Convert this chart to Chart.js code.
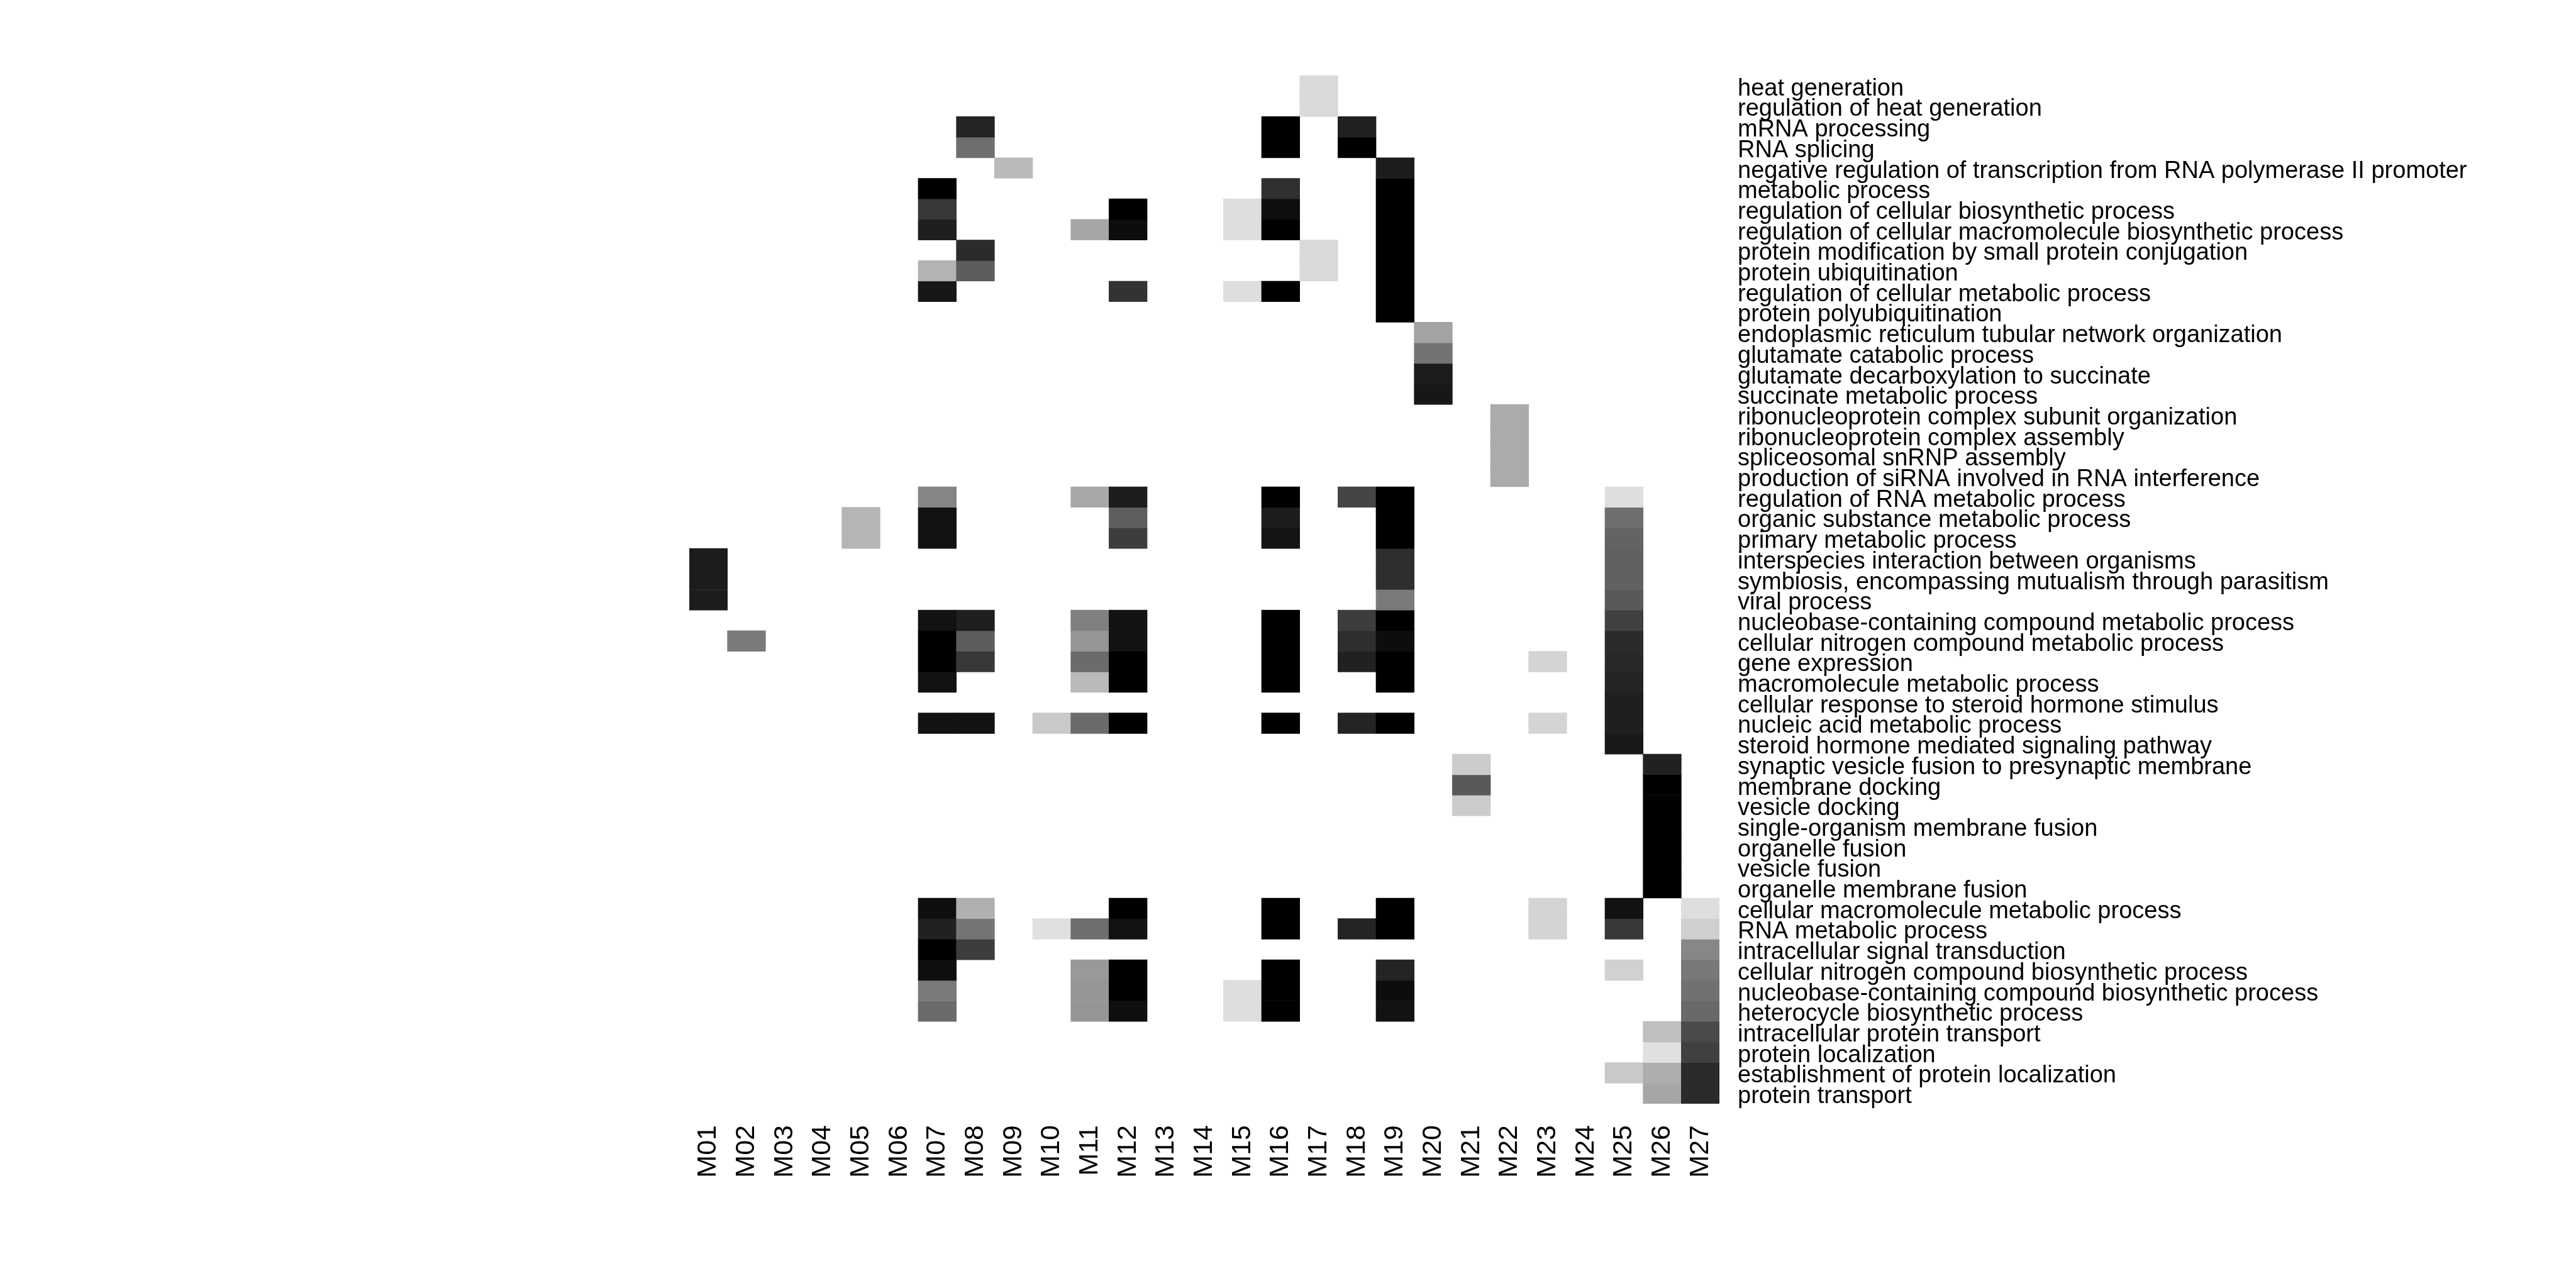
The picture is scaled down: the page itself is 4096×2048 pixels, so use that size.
<!DOCTYPE html>
<html>
<head>
<meta charset="utf-8">
<script src="https://cdn.jsdelivr.net/npm/chart.js@4.4.1/dist/chart.umd.min.js"></script>
<style>
html,body{margin:0;padding:0;background:#fff;}
#wrap{width:4096px;height:2048px;position:relative;}
</style>
</head>
<body>
<div id="wrap"><canvas id="c" width="4096" height="2048"></canvas></div>
<script>
const modules = ['M01','M02','M03','M04','M05','M06','M07','M08','M09','M10','M11','M12','M13','M14','M15','M16','M17','M18','M19','M20','M21','M22','M23','M24','M25','M26','M27'];

const terms = [
  'heat generation',
  'regulation of heat generation',
  'mRNA processing',
  'RNA splicing',
  'negative regulation of transcription from RNA polymerase II promoter',
  'metabolic process',
  'regulation of cellular biosynthetic process',
  'regulation of cellular macromolecule biosynthetic process',
  'protein modification by small protein conjugation',
  'protein ubiquitination',
  'regulation of cellular metabolic process',
  'protein polyubiquitination',
  'endoplasmic reticulum tubular network organization',
  'glutamate catabolic process',
  'glutamate decarboxylation to succinate',
  'succinate metabolic process',
  'ribonucleoprotein complex subunit organization',
  'ribonucleoprotein complex assembly',
  'spliceosomal snRNP assembly',
  'production of siRNA involved in RNA interference',
  'regulation of RNA metabolic process',
  'organic substance metabolic process',
  'primary metabolic process',
  'interspecies interaction between organisms',
  'symbiosis, encompassing mutualism through parasitism',
  'viral process',
  'nucleobase-containing compound metabolic process',
  'cellular nitrogen compound metabolic process',
  'gene expression',
  'macromolecule metabolic process',
  'cellular response to steroid hormone stimulus',
  'nucleic acid metabolic process',
  'steroid hormone mediated signaling pathway',
  'synaptic vesicle fusion to presynaptic membrane',
  'membrane docking',
  'vesicle docking',
  'single-organism membrane fusion',
  'organelle fusion',
  'vesicle fusion',
  'organelle membrane fusion',
  'cellular macromolecule metabolic process',
  'RNA metabolic process',
  'intracellular signal transduction',
  'cellular nitrogen compound biosynthetic process',
  'nucleobase-containing compound biosynthetic process',
  'heterocycle biosynthetic process',
  'intracellular protein transport',
  'protein localization',
  'establishment of protein localization',
  'protein transport'
];

// enrichment score per term (rows) and module (columns M01..M27); _ = not enriched
const _ = null;
const scores = [
  [_,_,_,_,_,_,_,_,_,    _,_,_,_,_,_,_,.15,_,      _,_,_,_,_,_,_,_,_],
  [_,_,_,_,_,_,_,_,_,    _,_,_,_,_,_,_,.15,_,      _,_,_,_,_,_,_,_,_],
  [_,_,_,_,_,_,_,.86,_,  _,_,_,_,_,_,1,_,.87,      _,_,_,_,_,_,_,_,_],
  [_,_,_,_,_,_,_,.57,_,  _,_,_,_,_,_,1,_,1,        _,_,_,_,_,_,_,_,_],
  [_,_,_,_,_,_,_,_,.27,  _,_,_,_,_,_,_,_,_,        .89,_,_,_,_,_,_,_,_],
  [_,_,_,_,_,_,1,_,_,    _,_,_,_,_,_,.81,_,_,      1,_,_,_,_,_,_,_,_],
  [_,_,_,_,_,_,.78,_,_,  _,_,1,_,_,.13,.94,_,_,    1,_,_,_,_,_,_,_,_],
  [_,_,_,_,_,_,.88,_,_,  _,.35,.95,_,_,.13,1,_,_,  1,_,_,_,_,_,_,_,_],
  [_,_,_,_,_,_,_,.83,_,  _,_,_,_,_,_,_,.15,_,      1,_,_,_,_,_,_,_,_],
  [_,_,_,_,_,_,.30,.64,_,_,_,_,_,_,_,_,.15,_,      1,_,_,_,_,_,_,_,_],
  [_,_,_,_,_,_,.91,_,_,  _,_,.80,_,_,.13,1,_,_,    1,_,_,_,_,_,_,_,_],
  [_,_,_,_,_,_,_,_,_,    _,_,_,_,_,_,_,_,_,        1,_,_,_,_,_,_,_,_],
  [_,_,_,_,_,_,_,_,_,    _,_,_,_,_,_,_,_,_,        _,.36,_,_,_,_,_,_,_],
  [_,_,_,_,_,_,_,_,_,    _,_,_,_,_,_,_,_,_,        _,.55,_,_,_,_,_,_,_],
  [_,_,_,_,_,_,_,_,_,    _,_,_,_,_,_,_,_,_,        _,.89,_,_,_,_,_,_,_],
  [_,_,_,_,_,_,_,_,_,    _,_,_,_,_,_,_,_,_,        _,.91,_,_,_,_,_,_,_],
  [_,_,_,_,_,_,_,_,_,    _,_,_,_,_,_,_,_,_,        _,_,_,.33,_,_,_,_,_],
  [_,_,_,_,_,_,_,_,_,    _,_,_,_,_,_,_,_,_,        _,_,_,.33,_,_,_,_,_],
  [_,_,_,_,_,_,_,_,_,    _,_,_,_,_,_,_,_,_,        _,_,_,.33,_,_,_,_,_],
  [_,_,_,_,_,_,_,_,_,    _,_,_,_,_,_,_,_,_,        _,_,_,.33,_,_,_,_,_],
  [_,_,_,_,_,_,.48,_,_,  _,.34,.89,_,_,_,1,_,.73,  1,_,_,_,_,_,.13,_,_],
  [_,_,_,_,.29,_,.93,_,_,_,_,.63,_,_,_,.89,_,_,    1,_,_,_,_,_,.57,_,_],
  [_,_,_,_,.29,_,.93,_,_,_,_,.76,_,_,_,.92,_,_,    1,_,_,_,_,_,.61,_,_],
  [.89,_,_,_,_,_,_,_,_,  _,_,_,_,_,_,_,_,_,        .82,_,_,_,_,_,.62,_,_],
  [.89,_,_,_,_,_,_,_,_,  _,_,_,_,_,_,_,_,_,        .82,_,_,_,_,_,.62,_,_],
  [.89,_,_,_,_,_,_,_,_,  _,_,_,_,_,_,_,_,_,        .52,_,_,_,_,_,.65,_,_],
  [_,_,_,_,_,_,.93,.88,_,_,.50,.93,_,_,_,1,_,.76,  1,_,_,_,_,_,.75,_,_],
  [_,.52,_,_,_,_,1,.64,_,_,.41,.93,_,_,_,1,_,.82,  .95,_,_,_,_,_,.83,_,_],
  [_,_,_,_,_,_,1,.78,_,  _,.58,1,_,_,_,1,_,.87,    1,_,_,_,.17,_,.84,_,_],
  [_,_,_,_,_,_,.93,_,_,  _,.27,1,_,_,_,1,_,_,      1,_,_,_,_,_,.86,_,_],
  [_,_,_,_,_,_,_,_,_,    _,_,_,_,_,_,_,_,_,        _,_,_,_,_,_,.88,_,_],
  [_,_,_,_,_,_,.93,.93,_,.21,.58,1,_,_,_,1,_,.86,  1,_,_,_,.17,_,.88,_,_],
  [_,_,_,_,_,_,_,_,_,    _,_,_,_,_,_,_,_,_,        _,_,_,_,_,_,.90,_,_],
  [_,_,_,_,_,_,_,_,_,    _,_,_,_,_,_,_,_,_,        _,_,.20,_,_,_,_,.87,_],
  [_,_,_,_,_,_,_,_,_,    _,_,_,_,_,_,_,_,_,        _,_,.65,_,_,_,_,1,_],
  [_,_,_,_,_,_,_,_,_,    _,_,_,_,_,_,_,_,_,        _,_,.20,_,_,_,_,1,_],
  [_,_,_,_,_,_,_,_,_,    _,_,_,_,_,_,_,_,_,        _,_,_,_,_,_,_,1,_],
  [_,_,_,_,_,_,_,_,_,    _,_,_,_,_,_,_,_,_,        _,_,_,_,_,_,_,1,_],
  [_,_,_,_,_,_,_,_,_,    _,_,_,_,_,_,_,_,_,        _,_,_,_,_,_,_,1,_],
  [_,_,_,_,_,_,_,_,_,    _,_,_,_,_,_,_,_,_,        _,_,_,_,_,_,_,1,_],
  [_,_,_,_,_,_,.94,.31,_,_,_,1,_,_,_,1,_,_,        1,_,_,_,.17,_,.93,_,.13],
  [_,_,_,_,_,_,.87,.54,_,.12,.57,.93,_,_,_,1,_,.86, 1,_,_,_,.17,_,.78,_,.19],
  [_,_,_,_,_,_,1,.76,_,  _,_,_,_,_,_,_,_,_,        _,_,_,_,_,_,_,_,.47],
  [_,_,_,_,_,_,.94,_,_,  _,.40,1,_,_,_,1,_,_,      .86,_,_,_,_,_,.18,_,.53],
  [_,_,_,_,_,_,.52,_,_,  _,.41,1,_,_,.13,1,_,_,    .95,_,_,_,_,_,_,_,.56],
  [_,_,_,_,_,_,.58,_,_,  _,.41,.94,_,_,.13,1,_,_,  .93,_,_,_,_,_,_,_,.59],
  [_,_,_,_,_,_,_,_,_,    _,_,_,_,_,_,_,_,_,        _,_,_,_,_,_,_,.25,.71],
  [_,_,_,_,_,_,_,_,_,    _,_,_,_,_,_,_,_,_,        _,_,_,_,_,_,_,.12,.75],
  [_,_,_,_,_,_,_,_,_,    _,_,_,_,_,_,_,_,_,        _,_,_,_,_,_,.21,.32,.83],
  [_,_,_,_,_,_,_,_,_,    _,_,_,_,_,_,_,_,_,        _,_,_,_,_,_,_,.35,.83]
];

// grey colour scale: 0 -> white, 1 -> black
function grey(s) {
  if (s === null || s === undefined) return 'rgba(255,255,255,0)';
  const g = Math.round(255 * (1 - s));
  return 'rgb(' + g + ',' + g + ',' + g + ')';
}

const datasets = terms.map((term, r) => ({
  label: term,
  data: scores[r].map(s => (s === null ? null : [r, r + 1])),
  backgroundColor: scores[r].map(grey),
  borderWidth: 0,
  borderSkipped: false,
  grouped: false,
  barPercentage: 1,
  categoryPercentage: 1
}));

const W = 4096, H = 2048;
const plotLeft = 1096, plotRight = 2734, plotTop = 120, plotBottom = 1755;
const labelShift = 0.15; // row-label baseline sits slightly below row centre

new Chart(document.getElementById('c'), {
  type: 'bar',
  data: { labels: modules, datasets: datasets },
  options: {
    responsive: false,
    animation: false,
    devicePixelRatio: 1,
    layout: { padding: { left: plotLeft, top: plotTop, right: 0, bottom: 0 } },
    plugins: { legend: { display: false }, tooltip: { enabled: false }, title: { display: false } },
    scales: {
      x: {
        type: 'category',
        offset: true,
        grid: { display: false, drawTicks: false },
        border: { display: false },
        ticks: {
          autoSkip: false,
          maxRotation: 90,
          minRotation: 90,
          padding: 34,
          color: '#000',
          font: { family: 'Liberation Sans', size: 43 }
        },
        afterFit: s => { s.height = H - plotBottom; }
      },
      y: {
        type: 'linear',
        position: 'right',
        min: 0,
        max: terms.length,
        reverse: true,
        grid: { display: false, drawTicks: false },
        border: { display: false },
        afterBuildTicks: s => { s.ticks = terms.map((t, i) => ({ value: i + 0.5 + labelShift })); },
        ticks: {
          autoSkip: false,
          padding: 29,
          color: '#000',
          font: { family: 'Liberation Sans', size: 38 },
          callback: (v, i) => terms[i]
        },
        afterFit: s => { s.width = W - plotRight; }
      }
    }
  }
});
</script>
</body>
</html>
